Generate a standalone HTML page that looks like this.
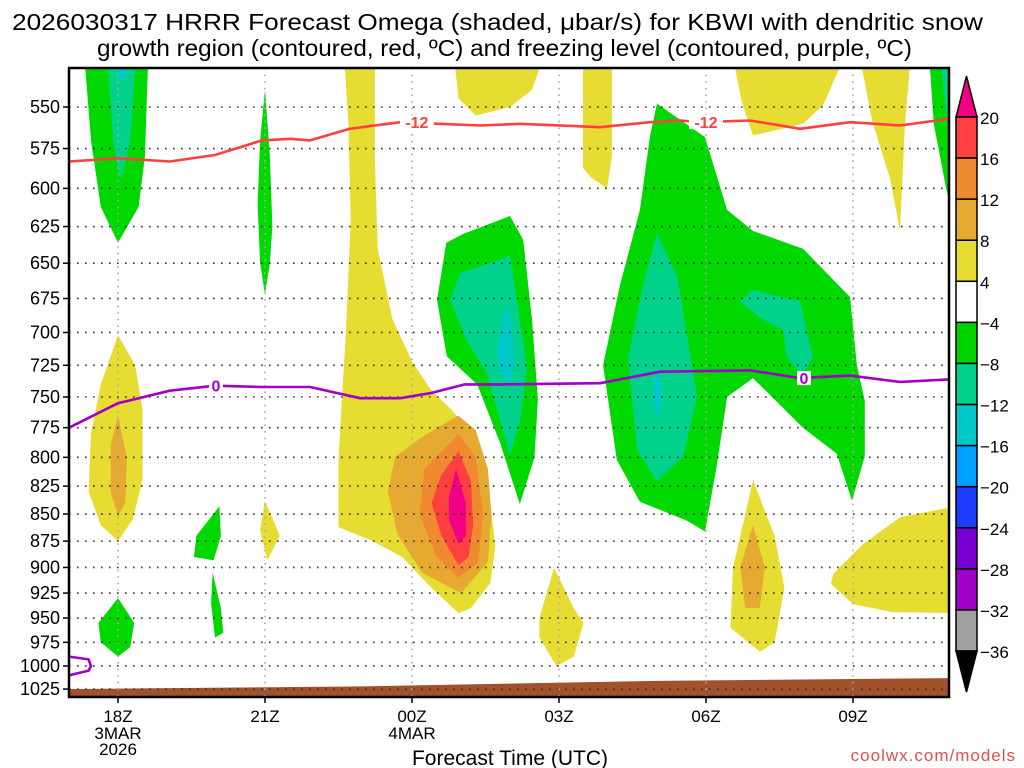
<!DOCTYPE html>
<html><head><meta charset="utf-8"><style>
html,body{margin:0;padding:0;background:#fff;}
svg{display:block;font-family:"Liberation Sans",sans-serif;}
</style></head><body>
<svg id="chart" width="1024" height="768" viewBox="0 0 1024 768" xmlns="http://www.w3.org/2000/svg">
<text x="12" y="30" font-size="23" textLength="971" lengthAdjust="spacingAndGlyphs">2026030317 HRRR Forecast Omega (shaded, μbar/s) for KBWI with dendritic snow</text>
<text x="97" y="56" font-size="23" textLength="815" lengthAdjust="spacingAndGlyphs">growth region (contoured, red, ºC) and freezing level (contoured, purple, ºC)</text>
<g id="fills"></g>
<g id="grid"></g>
<g id="lines"></g>
<g id="axes"></g>
<g id="cbar"></g>
<text x="510" y="765" font-size="21" text-anchor="middle">Forecast Time (UTC)</text>
<text x="1016" y="761" font-size="17" text-anchor="end" fill="#e05050" letter-spacing="1">coolwx.com/models</text>
</svg>
<script>
const NS="http://www.w3.org/2000/svg";
const pressureTicks=[550,575,600,625,650,675,700,725,750,775,800,825,850,875,900,925,950,975,1000,1025];
const timeTickHours=[0,3,6,9,12,15];
const timeTickLabels=["18Z","21Z","00Z","03Z","06Z","09Z"];
const dateLabels={0:["3MAR","2026"],6:["4MAR"]};
const cbarLevels=[20,16,12,8,4,-4,-8,-12,-16,-20,-24,-28,-32,-36];
const cbarColors=["#ff4040","#f08a30","#e6aa30","#e6dc32","#ffffff","#00d200","#00d28c","#00c8c8","#00a0ff","#1e3cff","#7800d2","#a000c8","#a0a0a0"];
const C={y:"#e6dc32",g:"#e6aa30",o:"#f08a30",r:"#ff4040",m:"#f00082",gr:"#00d800",t:"#00d28c",c:"#00c8c8"};
// shaded regions: [color, [[hour, hPa],...]]
const regions=[
["gr",[[-0.67,527],[0.61,527],[0.55,580],[0.42,612],[0,636],[-0.35,612],[-0.55,570]]],
["t",[[-0.2,527],[0.35,527],[0.25,570],[0.05,595],[-0.1,570]]],
["c",[[-0.05,527],[0.2,527],[0.1,535]]],
["gr",[[3.0,540],[3.1,580],[3.15,625],[3.1,650],[3.0,672],[2.9,650],[2.85,610],[2.9,570]]],
["y",[[4.63,527],[5.24,527],[5.24,580],[5.3,640],[5.6,690],[6.0,722],[6.4,745],[6.8,760],[7.1,775],[7.35,800],[7.6,840],[7.7,880],[7.6,915],[7.2,940],[6.95,945],[6.4,920],[5.8,890],[5.2,875],[4.5,862],[4.5,800],[4.65,700],[4.75,620],[4.7,560]]],
["g",[[6.94,765],[7.3,777],[7.55,810],[7.62,850],[7.55,895],[7.0,925],[6.2,905],[5.7,868],[5.51,830],[5.65,800],[6.2,783]]],
["o",[[6.95,780],[7.3,800],[7.45,850],[7.35,895],[6.95,910],[6.5,890],[6.15,850],[6.25,810]]],
["r",[[6.95,795],[7.2,820],[7.25,860],[7.15,890],[6.95,898],[6.6,870],[6.4,840],[6.6,815]]],
["m",[[6.9,810],[7.1,840],[7.1,870],[6.95,878],[6.75,855],[6.75,835]]],
["gr",[[8.0,618],[8.27,634],[8.45,690],[8.57,752],[8.5,800],[8.2,841],[7.8,788],[7.33,740],[6.71,718],[6.51,676],[6.7,636],[7.04,630]]],
["t",[[6.98,657],[8.0,645],[8.2,690],[8.35,727],[8.2,770],[8.0,798],[7.53,732],[7.1,705],[6.78,676]]],
["c",[[7.96,680],[8.05,700],[8.1,722],[8.0,740],[7.8,730],[7.73,714],[7.85,690]]],
["gr",[[11.0,548],[11.98,568],[12.43,614],[12.96,628],[13.98,640],[14.94,674],[15.08,725],[15.24,753],[15.24,799],[14.98,838],[14.67,797],[13.98,775],[12.96,735],[12.43,750],[12.22,807],[11.98,866],[11.61,856],[10.65,839],[10.18,802],[9.9,725],[10.24,666],[10.65,614],[10.86,567]]],
["t",[[11.0,629],[11.41,659],[11.82,750],[11.53,799],[11.0,821],[10.59,793],[10.41,720],[10.71,666]]],
["c",[[11.0,723],[11.12,750],[11.0,770],[10.9,750]]],
["t",[[12.96,669],[13.92,677],[14.18,719],[13.96,733],[13.65,719],[13.57,698],[13.1,689],[12.69,677]]],
["y",[[9.49,527],[10.08,527],[10.08,580],[9.98,600],[9.65,593],[9.49,587]]],
["y",[[12.59,527],[14.73,527],[14.39,549],[13.98,560],[12.96,567],[12.73,547]]],
["y",[[15.18,527],[16.16,527],[16.06,561],[15.96,628],[15.76,594],[15.39,558]]],
["gr",[[16.57,527],[17.1,527],[17.1,625],[16.9,600],[16.65,560]]],
["t",[[16.8,527],[17.1,527],[17.1,580],[16.93,560]]],
["y",[[6.88,527],[8.61,527],[8.45,540],[8.0,550],[7.3,555],[6.95,545]]],
["y",[[0,702],[0.35,725],[0.5,760],[0.5,820],[0.3,855],[0,875],[-0.35,860],[-0.6,830],[-0.55,780],[-0.35,740]]],
["g",[[0,765],[0.18,800],[0.15,840],[0,852],[-0.15,830],[-0.15,790]]],
["gr",[[0,930],[0.33,955],[0.25,980],[0,990],[-0.35,975],[-0.4,955]]],
["gr",[[2.07,843],[2.1,870],[1.95,893],[1.55,890],[1.6,870]]],
["gr",[[1.93,905],[2.1,940],[2.15,965],[1.98,970],[1.9,935]]],
["y",[[3.0,838],[3.3,870],[3.05,893],[2.9,865]]],
["y",[[8.9,900],[9.3,940],[9.5,955],[9.3,990],[8.95,1000],[8.6,970],[8.6,950]]],
["y",[[12.96,820],[13.4,870],[13.6,920],[13.4,975],[13.1,985],[12.5,960],[12.55,900]]],
["g",[[12.96,860],[13.2,900],[13.1,940],[12.8,940],[12.7,900]]],
["y",[[17.1,843],[15.96,853],[15.2,878],[14.6,906],[14.55,916],[15.0,936],[15.8,944],[17.1,945]]]
];
const snowHours=[-1,0,1.06,1.98,2.94,3.51,3.92,4.73,5.76,6.57,7.39,8.2,9.84,10.86,11.47,11.88,12.9,13.92,14.94,15.96,16.96];
const snowPres=[583,581,583,579,570,569,570,563,559,560,561,560,562,559,558,559,558,563,559,561,557];
const frzHours=[-1,0,1.06,1.98,2.94,3.92,4.94,5.76,6.37,7.08,7.8,9.84,11.06,12.9,13.92,14.94,15.96,16.96];
const frzPres=[775,755,745,741,742,742,751,751,747,740,740,739,730,729,735,733,738,736];
const frz2Hours=[-1,-0.6,-0.55,-0.6,-1];
const frz2Pres=[990,993,1000,1005,1010];
const terrainHours=[-1,5,11,17];
const terrainPres=[1025,1022,1016,1013];

const X0=69,X1=949,Y0=68,Y1=697;
const xs=h=>118+49*h;
const ys=p=>107+935*Math.log(p/550);
const svg=document.getElementById('chart');
function mk(tag,attrs,parent){const e=document.createElementNS(NS,tag);for(const k in attrs)e.setAttribute(k,attrs[k]);parent.appendChild(e);return e;}
const defs=mk('defs',{},svg);
const cp=mk('clipPath',{id:'plotclip'},defs);
mk('rect',{x:X0,y:Y0,width:X1-X0,height:Y1-Y0},cp);
const fills=document.getElementById('fills');fills.setAttribute('clip-path','url(#plotclip)');
regions.forEach((r,i)=>{
 const pts=r[1].map(d=>xs(d[0]).toFixed(1)+','+ys(d[1]).toFixed(1)).join(' ');
 const e=mk('polygon',{points:pts,fill:C[r[0]]},fills);
 
 
});
// terrain
{const pts=terrainHours.map((h,i)=>xs(h)+','+ys(terrainPres[i]));pts.push(xs(17)+','+Y1,xs(-1)+','+Y1);
 const e=mk('polygon',{points:pts.join(' '),fill:'#a0522d'},fills);
 
 }
// grid
const grid=document.getElementById('grid');
pressureTicks.forEach(p=>{const e=mk('line',{x1:X0,x2:X1,y1:ys(p),y2:ys(p),stroke:'#333','stroke-width':1.6,'stroke-dasharray':'1.6 6.4'},grid);
 
 });
timeTickHours.forEach(h=>{const e=mk('line',{x1:xs(h),x2:xs(h),y1:Y0,y2:Y1,stroke:'#aaa','stroke-width':1.6,'stroke-dasharray':'1.6 5'},grid);
 
 });
// contour lines
const lines=document.getElementById('lines');lines.setAttribute('clip-path','url(#plotclip)');
function poly(hs,ps,color,name){const e=mk('polyline',{points:hs.map((h,i)=>xs(h).toFixed(1)+','+ys(ps[i]).toFixed(1)).join(' '),fill:'none',stroke:color,'stroke-width':2.6,'stroke-linejoin':'round'},lines);
 
 }
poly(snowHours,snowPres,'#ff4040','dgz-minus12-contour');
poly(frzHours,frzPres,'#a000c8','freezing-level-contour');
poly(frz2Hours,frz2Pres,'#a000c8','freezing-level-contour-low');
function clab(h,p,t,color,name){const x=xs(h),y=ys(p);
 const r=mk('rect',{x:x-(t.length*5+2),y:y-7,width:t.length*10+4,height:14,fill:'#fff'},lines);
 
 
 const e=mk('text',{x:x,y:y+6,'font-size':16,'font-weight':'bold','text-anchor':'middle',fill:color},lines);e.textContent=t;
 
 }
clab(6.1,559,'-12','#ff4040','contour-label-minus12');
clab(12.0,559,'-12','#ff4040','contour-label-minus12-b');
clab(2.0,741,'0','#a000c8','contour-label-zero');
clab(14.0,735,'0','#a000c8','contour-label-zero-b');
// axes
const ax=document.getElementById('axes');
mk('rect',{x:X0,y:Y0,width:X1-X0,height:Y1-Y0,fill:'none',stroke:'#000','stroke-width':2.5},ax);
pressureTicks.forEach(p=>{mk('line',{x1:X0-6,x2:X0,y1:ys(p),y2:ys(p),stroke:'#000','stroke-width':1.5},ax);
 const t=mk('text',{x:X0-9,y:ys(p)+6,'font-size':18,'text-anchor':'end'},ax);t.textContent=p;
 
 });
timeTickHours.forEach((h,i)=>{mk('line',{x1:xs(h),x2:xs(h),y1:Y1,y2:Y1+6,stroke:'#000','stroke-width':1.5},ax);
 const t=mk('text',{x:xs(h),y:Y1+25,'font-size':17,'text-anchor':'middle'},ax);t.textContent=timeTickLabels[i];
 
 
 (dateLabels[h]||[]).forEach((d,j)=>{const u=mk('text',{x:xs(h),y:Y1+42+16*j,'font-size':17,'text-anchor':'middle'},ax);u.textContent=d;
  
  });});
// colorbar
const cb=document.getElementById('cbar');
const CX0=956,CX1=977,CT=117,BH=41.08;
mk('polygon',{points:`${CX0},${CT} ${CX1},${CT} ${(CX0+CX1)/2},${CT-41}`,fill:'#f00082',stroke:'#000','stroke-width':1.5},cb);
cbarColors.forEach((c,i)=>{const r=mk('rect',{x:CX0,y:CT+i*BH,width:CX1-CX0,height:BH,fill:c,stroke:'#000','stroke-width':1.5},cb);
 
 });
const CB=CT+cbarColors.length*BH;
mk('polygon',{points:`${CX0},${CB} ${CX1},${CB} ${(CX0+CX1)/2},${CB+41}`,fill:'#000',stroke:'#000','stroke-width':1.5},cb);
cbarLevels.forEach((v,i)=>{const t=mk('text',{x:CX1+3,y:CT+i*BH+7,'font-size':17},cb);t.textContent=(v<0?'\u2212'+(-v):v);
 
 });
</script>
</body></html>
